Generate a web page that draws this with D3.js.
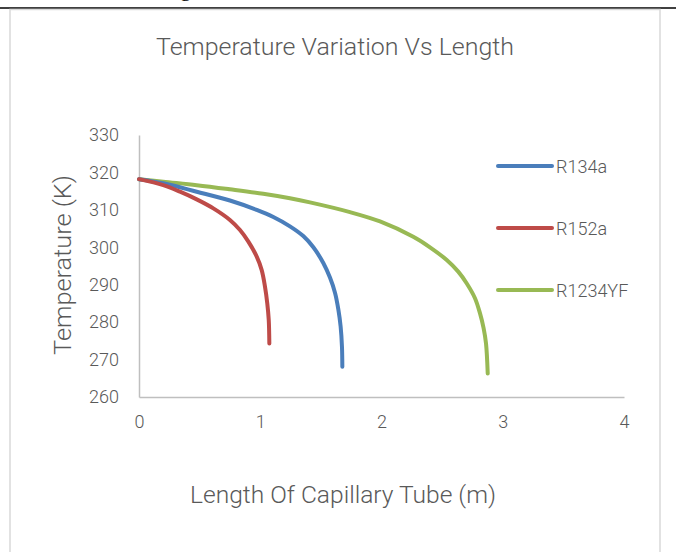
<!DOCTYPE html>
<html><head><meta charset="utf-8">
<script src="https://cdn.jsdelivr.net/npm/d3@7"></script>
<style>
html,body{margin:0;padding:0;background:#fff;}
svg{display:block;}
text{font-family:Roboto,"Liberation Sans",sans-serif;font-weight:300;fill:#595959;}
</style></head>
<body>
<svg id="c" width="676" height="552"></svg>
<script>
const seriesNames = ["R134a", "R152a", "R1234YF"];
const seriesColors = ["#4A7EBB", "#BE4B48", "#98B954"];
const lengthR134a = [0, 0.2, 0.476, 0.75, 0.971, 1.108, 1.245, 1.355, 1.438, 1.52, 1.575, 1.617, 1.644, 1.663, 1.674, 1.677];
const tempR134a   = [318.2, 317.1, 314.85, 312.5, 310.0, 308.1, 305.6, 303.0, 300.0, 295.8, 291.9, 287.8, 283.4, 278.8, 273.4, 268.1];
const lengthR152a = [0, 0.2, 0.338, 0.476, 0.613, 0.75, 0.833, 0.902, 0.971, 1.012, 1.039, 1.058, 1.07, 1.075];
const tempR152a   = [318.2, 316.6, 314.85, 312.8, 310.4, 307.3, 304.6, 301.5, 297.5, 293.9, 289.5, 285.0, 280.6, 274.3];
const lengthR1234YF = [0, 0.2, 0.476, 0.75, 1.025, 1.245, 1.41, 1.74, 1.988, 2.262, 2.4, 2.538, 2.633, 2.702, 2.771, 2.812, 2.842, 2.862, 2.876];
const tempR1234YF   = [318.2, 317.5, 316.6, 315.5, 314.3, 313.1, 312.0, 309.4, 306.9, 302.8, 300.0, 296.6, 293.5, 290.4, 286.4, 282.4, 278.4, 274.3, 266.3];
const xTicks = [0, 1, 2, 3, 4];
const yTicks = [260, 270, 280, 290, 300, 310, 320, 330];
const titleText = "Temperature Variation Vs Length";
const xTitle = "Length Of Capillary Tube (m)";
const yTitle = "Temperature (K)";

const svg = d3.select("#c");
// page remnants: cut text and rule above the chart box
svg.append("text").attr("x", 180).attr("y", -4).attr("font-size", 22)
  .style("font-family", "Liberation Serif, serif").style("font-weight", 400).style("fill", "#000").text("g");
svg.append("line").attr("x1", 0).attr("x2", 676).attr("y1", 8).attr("y2", 8)
  .attr("stroke", "#000").attr("stroke-width", 1.6);
// chart box
svg.append("rect").attr("x", 10).attr("y", 9.5).attr("width", 650).attr("height", 560)
  .attr("fill", "#fff").attr("stroke", "#d9d9d9").attr("stroke-width", 1.5);

const x = d3.scaleLinear().domain([0, 4]).range([139, 624]);
const y = d3.scaleLinear().domain([260, 330]).range([397, 135]);

// axes
const xAxis = svg.append("g").attr("transform", "translate(0,397)")
  .call(d3.axisBottom(x).tickValues(xTicks).tickSize(0).tickPadding(18).tickFormat(d3.format("d")));
const yAxis = svg.append("g").attr("transform", "translate(139,0)")
  .call(d3.axisLeft(y).tickValues(yTicks).tickSize(0).tickPadding(20).tickFormat(d3.format("d")));
[xAxis, yAxis].forEach(a => {
  a.select(".domain").attr("stroke", "#BFBFBF").attr("stroke-width", 1.5);
  a.selectAll("text").attr("font-size", 18).style("fill", "#595959")
    .style("font-family", 'Roboto,"Liberation Sans",sans-serif').style("font-weight", 300);
});

const data = [
  lengthR134a.map((l, i) => [l, tempR134a[i]]),
  lengthR152a.map((l, i) => [l, tempR152a[i]]),
  lengthR1234YF.map((l, i) => [l, tempR1234YF[i]])
];
const line = d3.line().x(d => x(d[0])).y(d => y(d[1])).curve(d3.curveCatmullRom.alpha(0.5));
[2, 0, 1].forEach(i => {
  svg.append("path").attr("d", line(data[i])).attr("fill", "none")
    .attr("stroke", seriesColors[i]).attr("stroke-width", 4).attr("stroke-linecap", "round");
});

// titles
svg.append("text").attr("x", 335).attr("y", 55).attr("text-anchor", "middle")
  .attr("font-size", 24).attr("textLength", 358).attr("lengthAdjust", "spacingAndGlyphs").text(titleText);
svg.append("text").attr("x", 343).attr("y", 503).attr("text-anchor", "middle")
  .attr("font-size", 24).attr("textLength", 306).attr("lengthAdjust", "spacingAndGlyphs").text(xTitle);
svg.append("text").attr("transform", "translate(71,265) rotate(-90)").attr("text-anchor", "middle")
  .attr("font-size", 24).attr("textLength", 180).attr("lengthAdjust", "spacingAndGlyphs").text(yTitle);

// legend
const legY = [166, 228, 290];
seriesNames.forEach((n, i) => {
  svg.append("line").attr("x1", 498).attr("x2", 552).attr("y1", legY[i]).attr("y2", legY[i])
    .attr("stroke", seriesColors[i]).attr("stroke-width", 4).attr("stroke-linecap", "round");
  svg.append("text").attr("x", 556).attr("y", legY[i] + 6.5).attr("font-size", 18).text(n);
});
</script>
</body></html>
